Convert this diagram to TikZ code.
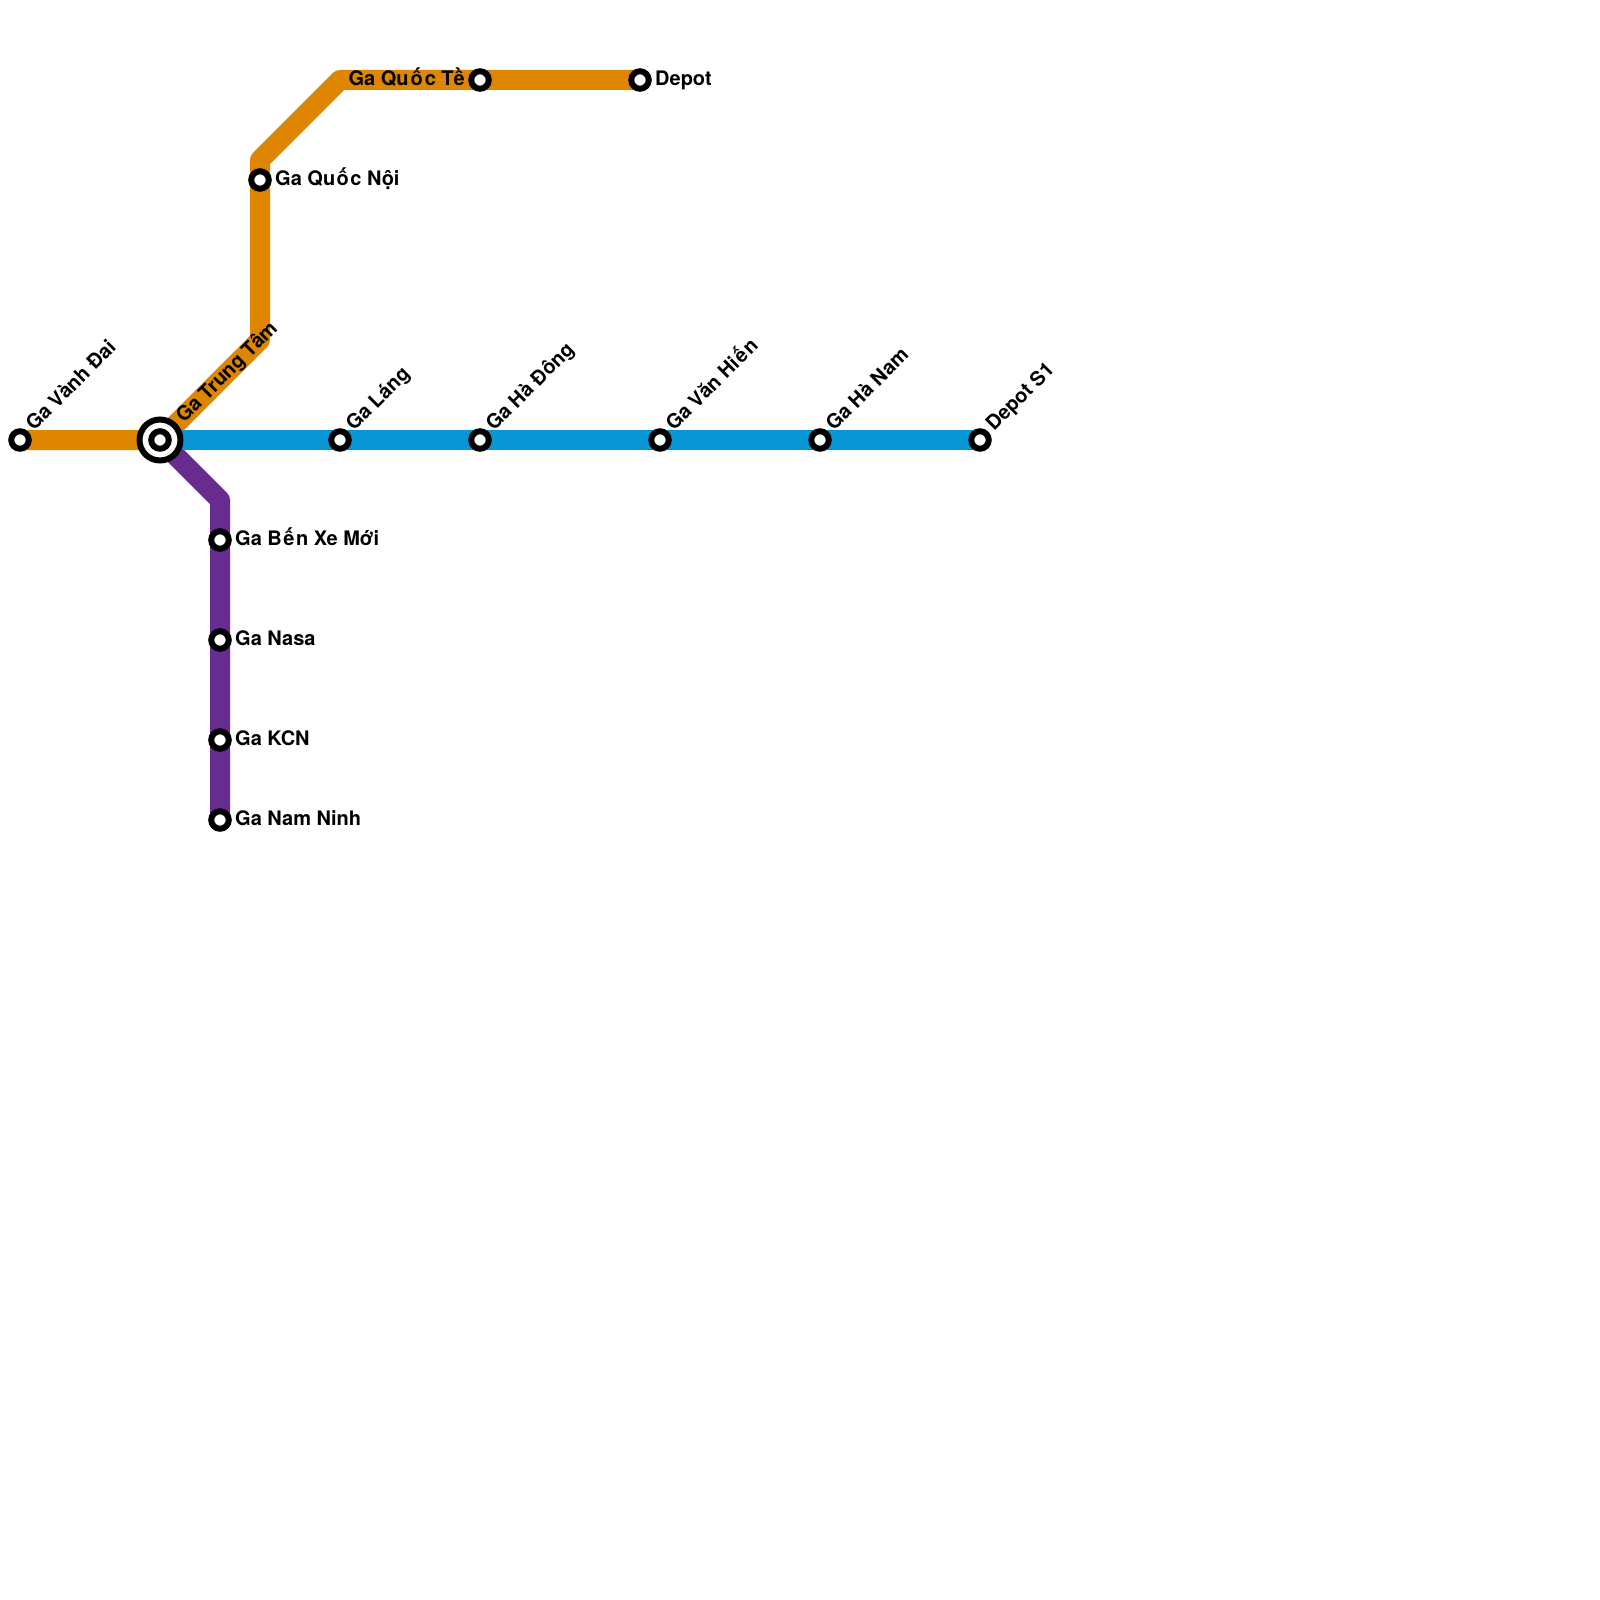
\documentclass[tikz,border=0pt]{standalone}
\usepackage{fontspec}
\setmainfont{TeX Gyre Heros}
\definecolor{lorange}{HTML}{DF8600}
\definecolor{lblue}{HTML}{0896D7}
\definecolor{lpurple}{HTML}{662C90}
\tikzset{
  metro/.style={line width=20pt,line join=round,draw=#1},
  stn/.style={circle,draw=black,fill=white,line width=6pt,minimum size=17.5pt,inner sep=0pt,outer sep=0pt},
  hub/.style={circle,draw=black,fill=white,line width=6pt,minimum size=41pt,inner sep=0pt,outer sep=0pt},
  lbl/.style={font=\fontsize{20pt}{22pt}\bfseries\selectfont,inner sep=0pt,text=black},
  diag/.style={lbl,anchor=base west,rotate=45},
}
\begin{document}
\begin{tikzpicture}[x=1pt,y=-1pt]
\useasboundingbox (0,0) rectangle (1600,1600);
% junction points
\coordinate (hubc) at (160,440);
\coordinate (b1) at (260,340);
\coordinate (b2) at (260,160);
\coordinate (b3) at (340,80);
\coordinate (b4) at (220,500);
\coordinate (vd) at (20,440);
\coordinate (dp) at (640,80);
\coordinate (s1) at (980,440);
\coordinate (nn) at (220,820);
% lines
\draw[metro=lorange] (vd) -- (hubc) -- (b1) -- (b2) -- (b3) -- (dp);
\draw[metro=lpurple] (hubc) -- (b4) -- (nn);
\draw[metro=lblue] (hubc) -- (s1);
% stations
\node[hub] (hub) at (hubc) {};
\node[stn] (hubi) at (hubc) {};
\node[stn] (svd) at (vd) {};
\node[stn] (sqn) at (260,180) {};
\node[stn] (sqt) at (480,80) {};
\node[stn] (sdp) at (dp) {};
\node[stn] (sl) at (340,440) {};
\node[stn] (shd) at (480,440) {};
\node[stn] (svh) at (660,440) {};
\node[stn] (shn) at (820,440) {};
\node[stn] (ss1) at (s1) {};
\node[stn] (sbx) at (220,540) {};
\node[stn] (sna) at (220,640) {};
\node[stn] (skc) at (220,740) {};
\node[stn] (snn) at (nn) {};
% labels
\node[diag] (t1) at (34,432) {Ga Vành Đai};
\node[diag] (t2) at (184,424) {Ga Trung Tâm};
\node[diag] (t3) at (354,432) {Ga Láng};
\node[diag] (t4) at (494,432) {Ga Hà Đông};
\node[diag] (t5) at (674,432) {Ga Văn Hi\kern1.5pt ế\kern1.5pt n};
\node[diag] (t6) at (834,432) {Ga Hà Nam};
\node[diag] (t7) at (994,432) {Depot S1};
\node[lbl,anchor=base west] (t8) at (275,185) {Ga Qu\kern1.5pt ố\kern1.5pt c Nội};
\node[lbl,anchor=base east] (t9) at (465,86) {Ga Qu\kern2pt ố\kern2pt c Tề};
\node[lbl,anchor=base west] (t10) at (655,86) {Depot};
\node[lbl,anchor=base west] (t11) at (235,545) {Ga B\kern1.5pt ế\kern1.5pt n Xe Mới};
\node[lbl,anchor=base west] (t12) at (235,645) {Ga Nasa};
\node[lbl,anchor=base west] (t13) at (235,745) {Ga KCN};
\node[lbl,anchor=base west] (t14) at (235,825) {Ga Nam Ninh};
\end{tikzpicture}
\end{document}
